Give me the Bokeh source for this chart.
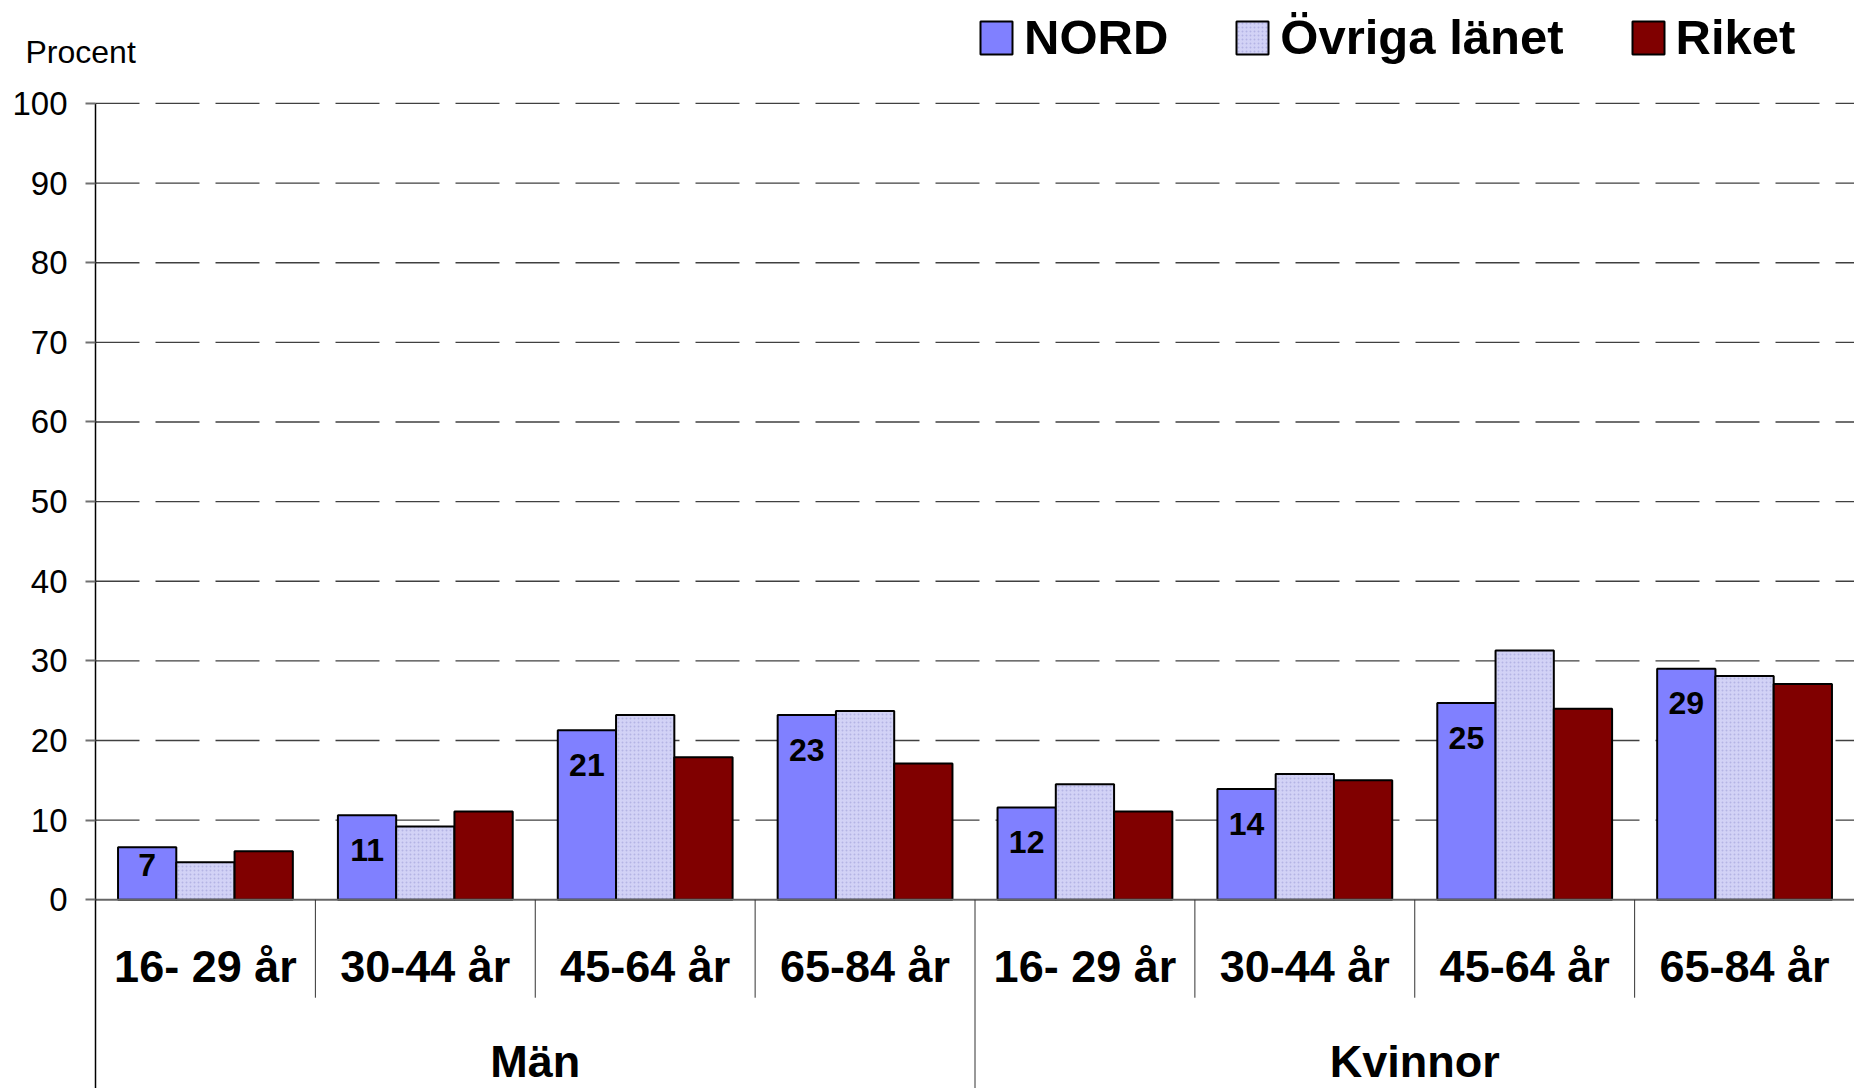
from bokeh.plotting import figure
from bokeh.models import (Range1d, FixedTicker, Legend, LegendItem, ColumnDataSource, LinearAxis)
from bokeh.transform import dodge
from bokeh.core.properties import value
from bokeh.embed import file_html
from bokeh.resources import INLINE

# ---- data ----
genders = ["Män", "Kvinnor"]
ages = ["16- 29 år", "30-44 år", "45-64 år", "65-84 år"]
series = ["NORD", "Övriga länet", "Riket"]
nord = [6.6, 10.6, 21.3, 23.2, 11.6, 13.9, 24.7, 29.0]
ovriga = [4.7, 9.2, 23.2, 23.7, 14.5, 15.8, 31.3, 28.1]
riket = [6.1, 11.1, 17.9, 17.1, 11.1, 15.0, 24.0, 27.1]
nord_labels = ["7", "11", "21", "23", "12", "14", "25", "29"]
y_ticks = [0, 10, 20, 30, 40, 50, 60, 70, 80, 90, 100]
y_title = "Procent"

FONT = value("Liberation Sans")
factors = [(g, a) for g in genders for a in ages]
n = len(factors)
xc = [i + 0.5 for i in range(n)]          # category centres on the x scale

W, H = 1854, 1088
LEFT_PX = 95
cat_px = (W - LEFT_PX) / n
X0 = -LEFT_PX / cat_px
Y_BOTTOM = -23.70
Y_TOP = 112.93
px_per_unit = H / (Y_TOP - Y_BOTTOM)

p = figure(width=W, height=H,
           x_range=Range1d(X0, n), y_range=Range1d(Y_BOTTOM, Y_TOP),
           x_axis_location=None, y_axis_location=None,
           output_backend="svg", toolbar_location=None,
           min_border_left=0, min_border_right=0, min_border_top=0, min_border_bottom=0)
p.outline_line_color = None
p.background_fill_color = "white"
p.border_fill_color = "white"
p.xgrid.visible = False
p.ygrid.visible = False

# y axis drawn at x = 0 (left edge of the category area)
yax = LinearAxis(fixed_location=0, ticker=FixedTicker(ticks=y_ticks))
yax.axis_line_alpha = 0
yax.major_tick_out = 10
yax.major_tick_in = 0
yax.minor_tick_line_color = None
yax.major_tick_line_color = "#707070"
yax.major_tick_line_width = 2
yax.major_label_text_font = "Liberation Sans"
yax.major_label_text_font_size = "33px"
yax.major_label_text_color = "black"
yax.major_label_standoff = 18
p.add_layout(yax, "left")

# dashed grid lines (10..100)
gy = y_ticks[1:]
p.segment(x0=[0] * len(gy), y0=gy, x1=[n] * len(gy), y1=gy,
          line_color="#404040", line_width=1.3, line_dash="44 16")

# label offset: inside the bar end, pushed up when the bar is short
lab_off = [7 if v * px_per_unit < 60 else 23.5 for v in nord]
src = ColumnDataSource(dict(x=xc, nord=nord, ovriga=ovriga, riket=riket,
                            lab=nord_labels, off=lab_off))
w = 0.265

r1 = p.vbar(x=dodge("x", -w), top="nord", width=w, source=src,
            fill_color="#8080ff", line_color="black", line_width=2)
r2 = p.vbar(x="x", top="ovriga", width=w, source=src,
            fill_color="#d2d2f6", hatch_pattern="dot", hatch_color="#b4b4e4",
            hatch_scale=4, hatch_weight=1, line_color="black", line_width=2)
r3 = p.vbar(x=dodge("x", w), top="riket", width=w, source=src,
            fill_color="#800000", line_color="black", line_width=2)

# value labels inside NORD bars
p.text(x=dodge("x", -w), y="nord", text="lab", source=src,
       text_align="center", text_baseline="top", y_offset="off",
       text_font=FONT, text_font_style="bold", text_font_size="32px", text_color="black")

# baseline at 0
p.segment(x0=[0], y0=[0], x1=[n], y1=[0], line_color="#666666", line_width=2)

# category separators below the axis
sep_x = list(range(1, n))
sep_y1 = [Y_BOTTOM if factors[i][1] == ages[0] else -12.3 for i in sep_x]
p.segment(x0=sep_x, y0=[0] * len(sep_x), x1=sep_x, y1=sep_y1,
          line_color="#333333", line_width=1)

# y axis line (from 100 down to the bottom)
p.segment(x0=[0], y0=[y_ticks[-1]], x1=[0], y1=[Y_BOTTOM], line_color="black", line_width=1.5)

# category labels
cat_src = ColumnDataSource(dict(x=xc, t=[a for (g, a) in factors]))
p.text(x="x", y=-8.4, text="t", source=cat_src, text_align="center",
       text_baseline="middle", text_font=FONT, text_font_style="bold",
       text_font_size="45px", text_color="black")

# group labels (centred on each gender's block of categories)
per = len(ages)
grp_x = [(k * per + (k + 1) * per) / 2 for k in range(len(genders))]
grp_src = ColumnDataSource(dict(x=grp_x, t=genders))
p.text(x="x", y=-20.3, text="t", source=grp_src, text_align="center",
       text_baseline="middle", text_font=FONT, text_font_style="bold",
       text_font_size="45px", text_color="black")

# "Procent"
p.text(x=[X0 + 25 / cat_px], y=[106.5], text=[y_title], text_align="left",
       text_baseline="middle", text_font=FONT, text_font_size="32px", text_color="black")

legend = Legend(items=[LegendItem(label=series[0], renderers=[r1]),
                       LegendItem(label=series[1], renderers=[r2]),
                       LegendItem(label=series[2], renderers=[r3])],
                orientation="horizontal", location=(976, 1023),
                glyph_width=40, glyph_height=41, label_standoff=8, spacing=64,
                padding=0, margin=0, border_line_alpha=0, background_fill_alpha=0,
                label_text_font="Liberation Sans", label_text_font_size="49px",
                label_text_font_style="bold", label_text_color="black")
p.add_layout(legend)

open("out.html", "w").write(file_html(p, INLINE))
